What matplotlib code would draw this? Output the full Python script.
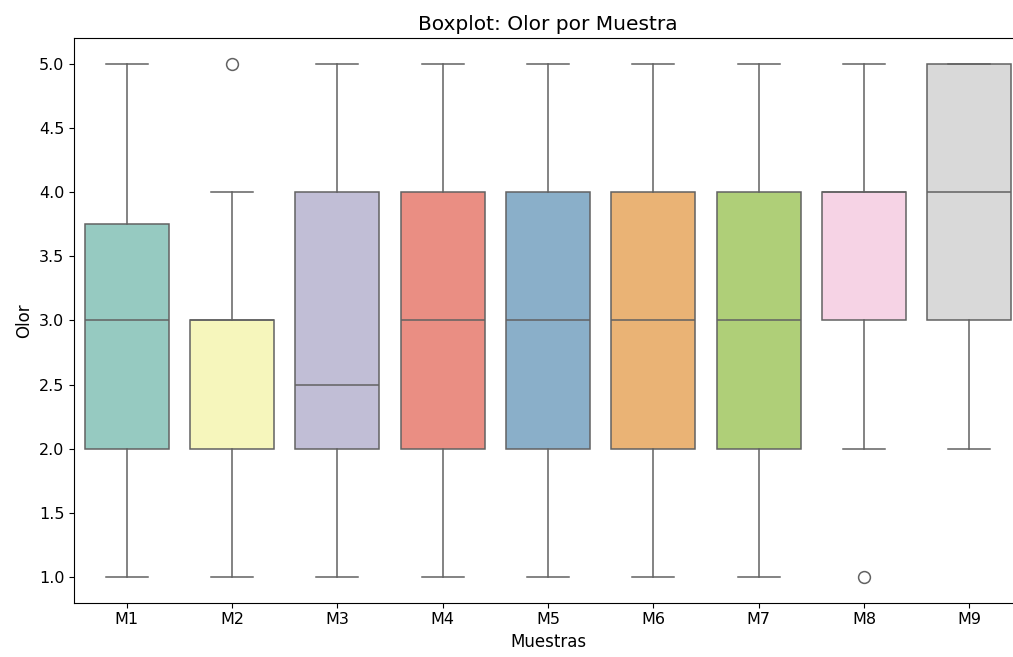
import colorsys
import matplotlib
matplotlib.use("Agg")
import matplotlib.pyplot as plt
import seaborn as sns

# summary stats
muestras = ["M1", "M2", "M3", "M4", "M5", "M6", "M7", "M8", "M9"]
whislo = [1, 1, 1, 1, 1, 1, 1, 2, 2]
q1 = [2, 2, 2, 2, 2, 2, 2, 3, 3]
med = [3, 3, 2.5, 3, 3, 3, 3, 4, 4]
q3 = [3.75, 3, 4, 4, 4, 4, 4, 4, 5]
whishi = [5, 4, 5, 5, 5, 5, 5, 5, 5]
fliers = [[], [5], [], [], [], [], [], [1], []]

colors = [sns.desaturate(c, 0.75) for c in sns.color_palette("Set3", len(muestras))]
lum = min(colorsys.rgb_to_hls(*c)[1] for c in colors) * .6
gray = (lum, lum, lum)

stats = []
for i, m in enumerate(muestras):
    stats.append(dict(label=m, whislo=whislo[i], q1=q1[i], med=med[i],
                      q3=q3[i], whishi=whishi[i], fliers=fliers[i]))

fig = plt.figure(figsize=(10.13, 6.57), dpi=100)
ax = fig.add_axes([74 / 1013, (657 - 602.7) / 657, (1022 - 74) / 1013, (602.7 - 38) / 657])

lw = 1.1
bp = ax.bxp(stats, positions=range(len(muestras)), widths=0.8, patch_artist=True,
            capwidths=0.4,
            boxprops=dict(edgecolor=gray, linewidth=lw),
            medianprops=dict(color=gray, linewidth=lw),
            whiskerprops=dict(color=gray, linewidth=lw),
            capprops=dict(color=gray, linewidth=lw),
            flierprops=dict(marker="o", markerfacecolor="none", markeredgecolor=gray,
                            markersize=8.5, markeredgewidth=lw))
for patch, c in zip(bp["boxes"], colors):
    patch.set_facecolor(c)

ax.set_xlim(-0.5, len(muestras) - 0.5)
ax.set_ylim(0.8, 5.2)
ax.set_xticks(range(len(muestras)))
ax.set_xticklabels(muestras)
ax.tick_params(labelsize=11.5)
ax.set_xlabel("Muestras", fontsize=12)
ax.set_ylabel("Olor", fontsize=12)
ax.set_title("Boxplot: Olor por Muestra", fontsize=14.5)

plt.savefig("out.png", dpi=100)
